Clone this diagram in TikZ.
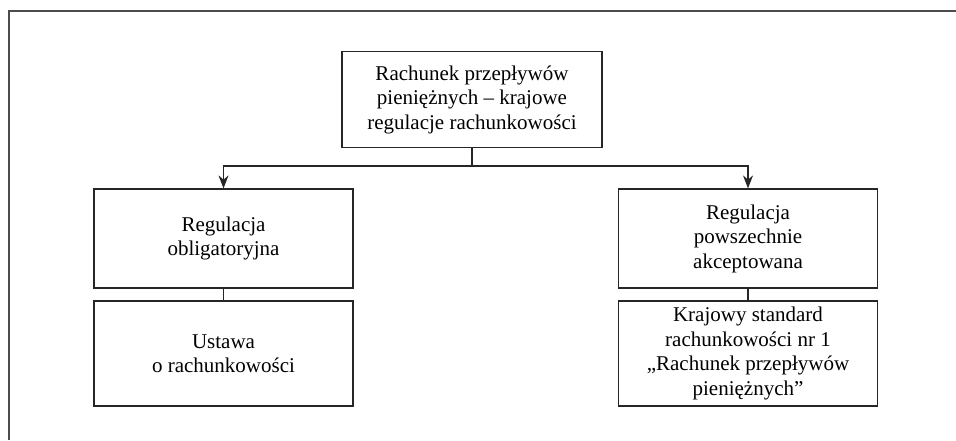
\documentclass[tikz,border=0pt]{standalone}
\usepackage{fontspec}
\setmainfont{Liberation Serif}
\usetikzlibrary{arrows.meta}

\tikzset{
  box/.style={draw=black!85, line width=1.2pt, align=center, inner sep=0pt,
    minimum width=259pt, font=\fontsize{21}{24.5}\selectfont},
  arr/.style={line width=1.2pt, draw=black!85, -{Stealth[length=13pt,width=10pt]}}
}

\begin{document}
\begin{tikzpicture}[x=1pt,y=-1pt]
\useasboundingbox (0,0) rectangle (956,440);
\draw[line width=1.4pt, black!70] (9,440)--(9,11)--(956,11);

\node[box, minimum width=260pt, minimum height=96pt] (cash) at (472,99.5)
  {Rachunek przepływów\\pieniężnych – krajowe\\regulacje rachunkowości};
\coordinate (split) at (472,166);

\node[box, minimum height=99pt] (oblig) at (223.5,238.5)
  {Regulacja\\obligatoryjna};
\node[box, minimum height=105pt] (act) at (223.5,353.5)
  {Ustawa\\o rachunkowości};

\node[box, minimum height=99pt] (accept) at (748,238.5)
  {Regulacja\\powszechnie\\akceptowana};
\node[box, minimum height=105pt] (ksr) at (748,353.5)
  {Krajowy standard\\rachunkowości nr 1\\„Rachunek przepływów\\pieniężnych”};

\draw[line width=1.2pt, black!85] (cash)--(split);
\draw[arr] (split) -| (oblig.north);
\draw[arr] (split) -| (accept.north);
\draw[line width=1.2pt, black!85] (oblig)--(act);
\draw[line width=1.2pt, black!85] (accept)--(ksr);
\end{tikzpicture}
\end{document}
